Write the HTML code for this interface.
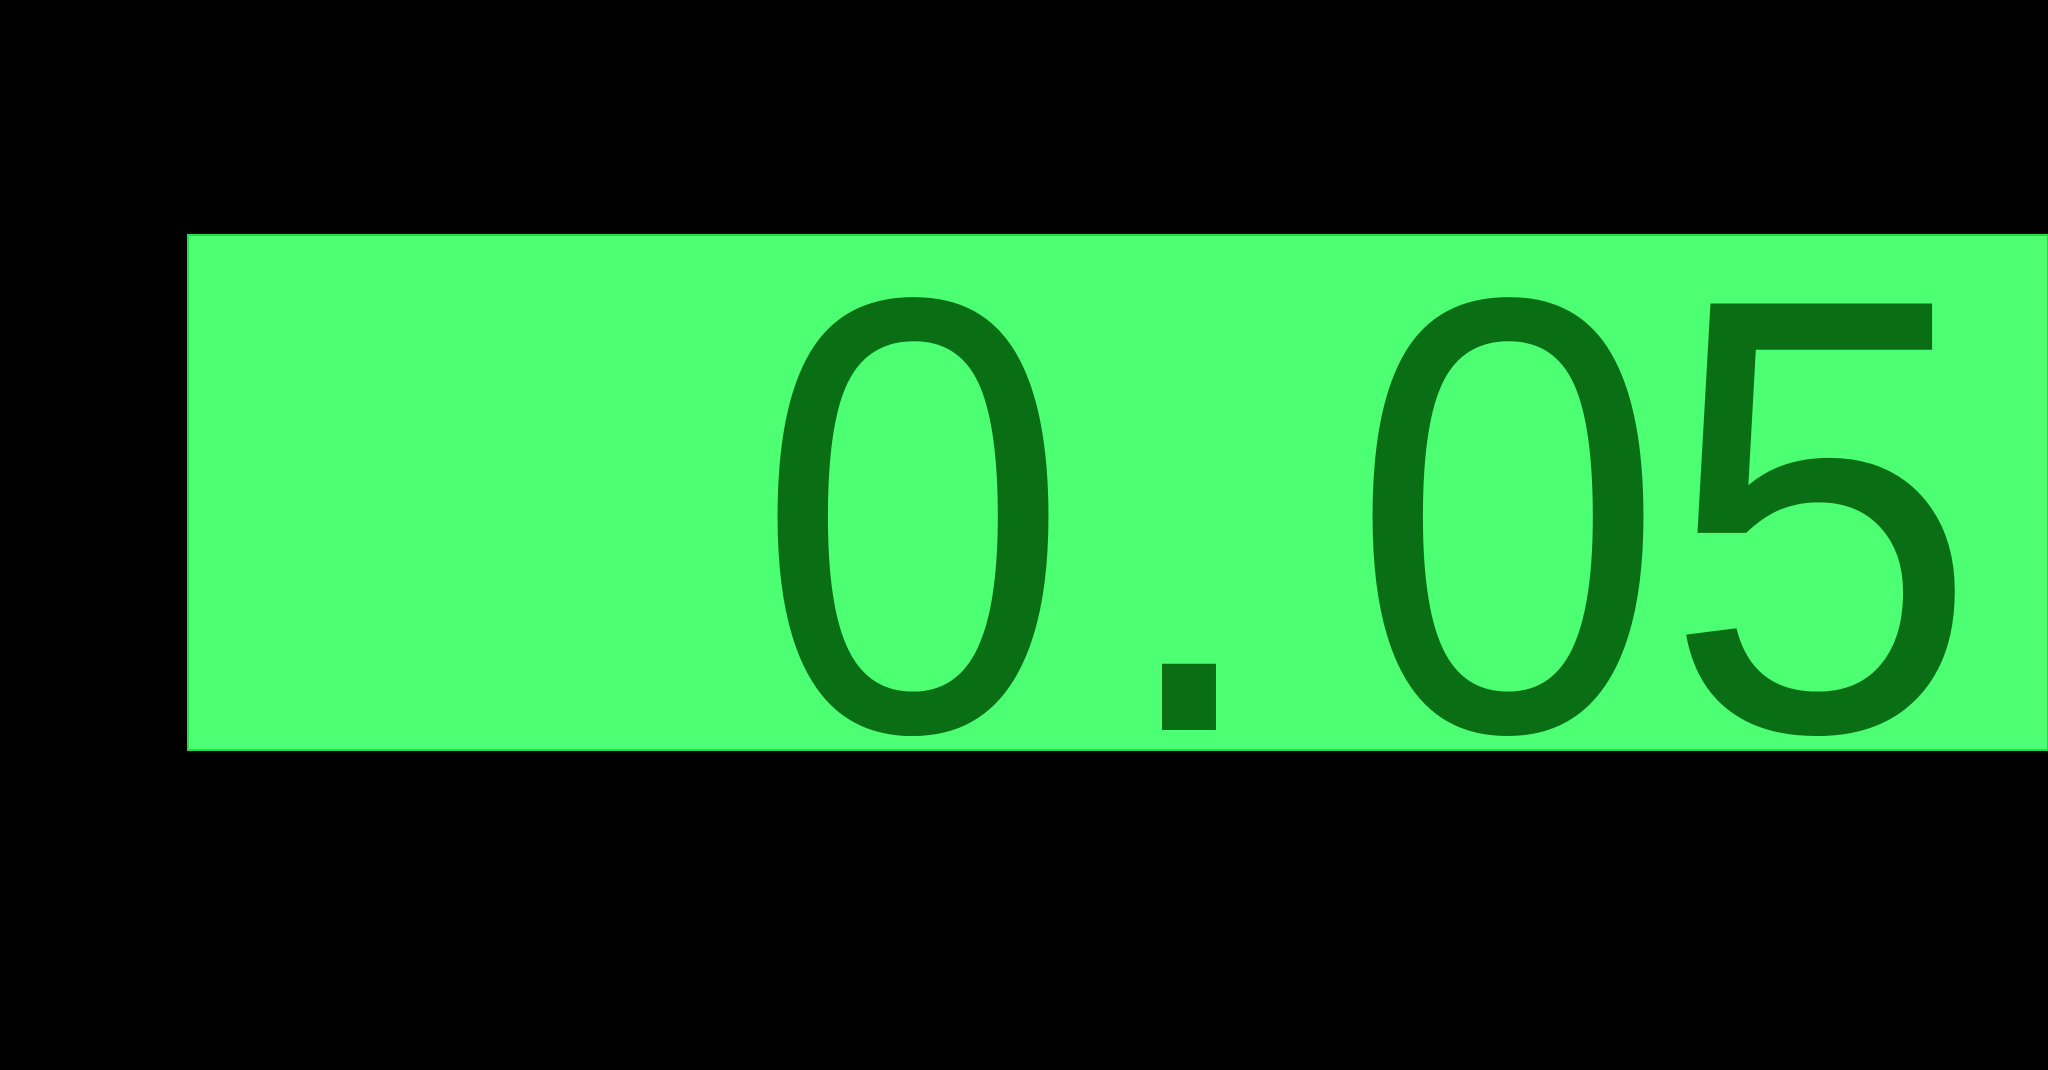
<!DOCTYPE html>
<html><head><meta charset="utf-8"><style>
html,body{margin:0;padding:0;background:#000;width:2048px;height:1070px;overflow:hidden}
</style></head><body>
<svg width="2048" height="1070" xmlns="http://www.w3.org/2000/svg">
<rect x="0" y="0" width="2048" height="1070" fill="#000"/>
<rect id="bar" x="188" y="235" width="1860" height="515" fill="#4dff73" stroke="#22dd44" stroke-width="2"/>
<g id="lbl" font-family="Liberation Sans, sans-serif" font-size="620" fill="#0a6e14" text-anchor="middle">
<text transform="translate(913,730) scale(0.914,1)">0</text>
<text transform="translate(1189,730) scale(0.914,1)">.</text>
<text transform="translate(1508,730) scale(0.914,1)">0</text>
<text transform="translate(1821,730) scale(0.914,1)">5</text>
</g>
</svg>
<script>
const values = [0.05];
const labels = ["0.05"];
</script>
</body></html>
